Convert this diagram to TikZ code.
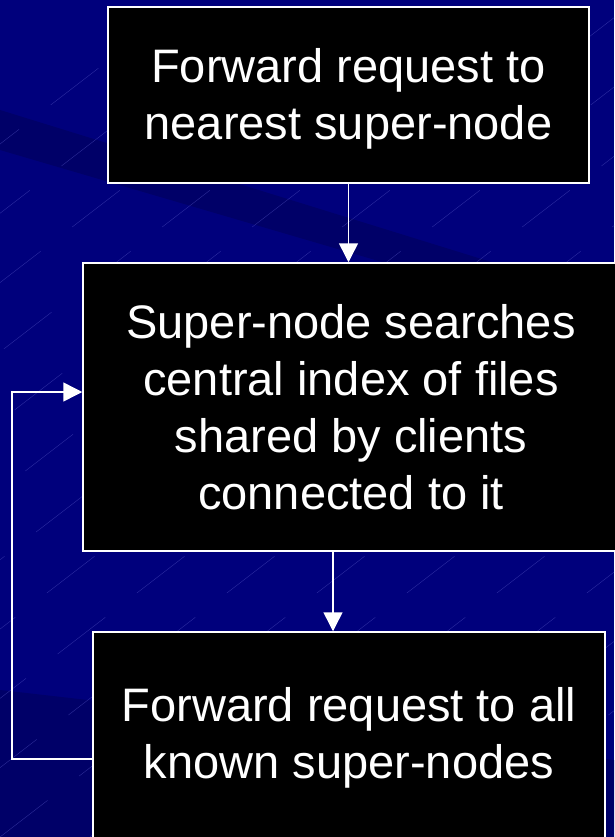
\documentclass[tikz,border=0pt]{standalone}
\usepackage{fontspec}
\setmainfont{Liberation Sans}
\usetikzlibrary{arrows.meta}
\definecolor{slidebg}{RGB}{0,0,124}
\definecolor{slideband}{RGB}{0,0,104}
\definecolor{slideline}{RGB}{90,90,200}
\tikzset{
  stepbox/.style={draw=white,fill=black,text=white,line width=1.5pt,align=center,
    inner sep=0pt,font=\fontsize{47}{57}\selectfont},
  flow/.style={draw=white,line width=1.5pt,-{Triangle[width=19pt,length=19pt]}},
  texture/.style={slideline,opacity=0.5,line width=0.4pt,dash pattern=on 60pt off 40pt}
}
\begin{document}
\begin{tikzpicture}[x=1pt,y=-1pt]
\useasboundingbox (0,0) rectangle (614,837);
\fill[slidebg] (0,0) rectangle (614,837);
% background bands and hatching
\begin{scope}
  \clip (0,0) rectangle (614,837);
  \fill[slideband] (0,110) -- (614,300) -- (614,330) -- (0,150) -- cycle;
  \fill[slideband] (0,690) -- (614,760) -- (614,837) -- (0,837) -- cycle;
  \foreach \i in {-900,-810,...,700}
    \draw[texture] (\i,837) -- ++(1100,-847);
\end{scope}
\node(forward) at (348.5,95)[stepbox,minimum width=481pt,minimum height=176pt,text height=98pt]
  {Forward request to\\nearest super-node};
\node(search) at (351,407)[stepbox,minimum width=536pt,minimum height=288pt]
  {Super-node searches\\central index of files\\shared by clients\\connected to it};
\node(flood) at (349,735)[stepbox,minimum width=512pt,minimum height=206pt,text height=96pt]
  {Forward request to all\\known super-nodes};
\coordinate(mid) at (333,591);
\coordinate(loopB) at (12,759);
\coordinate(loopT) at (12,392);
\draw[flow] (forward.south) -- (forward.south |- search.north);
\draw[flow] (search.south -| mid) -- (flood.north -| mid);
\draw[flow] (flood.west |- loopB) -- (loopB) -- (loopT) -- (search.west |- loopT);

\end{tikzpicture}
\end{document}
